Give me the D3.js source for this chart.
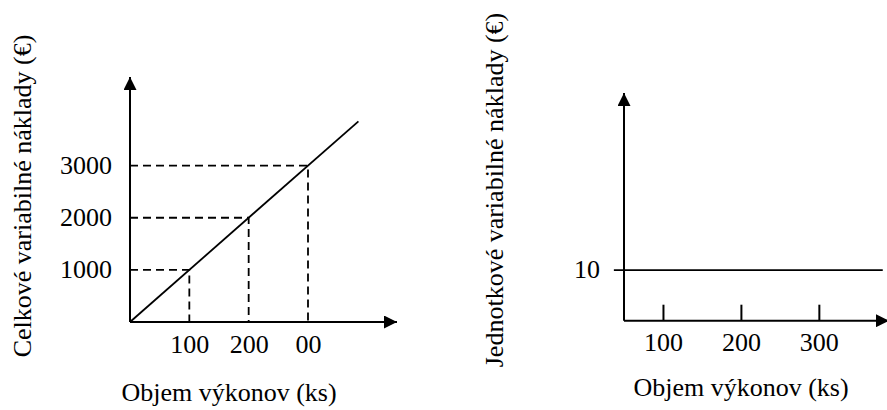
<!DOCTYPE html>
<html>
<head>
<meta charset="utf-8">
<script src="https://cdn.jsdelivr.net/npm/d3@7"></script>
<style>
  html, body { margin: 0; padding: 0; background: #fff; }
  svg { display: block; }
</style>
</head>
<body>
<div id="chart"></div>
<script>
// left chart: total variable costs
const leftXTicks = [100, 200, 300]
const leftXTickLabels = ["100", "200", "00"]
const leftYTicks = [1000, 2000, 3000]
const totalCostLine = [[0, 0], [385, 3850]]
const totalCostGuides = [[100, 1000], [200, 2000], [300, 3000]]
const leftXDomain = [0, 450]
const leftYDomain = [0, 4700]

// right chart: unit variable costs
const rightXTicks = [100, 200, 300]
const rightXTickLabels = ["100", "200", "300"]
const rightYTicks = [10]
const unitCostLine = [[37, 10], [382, 10]]
const rightXDomain = [50, 390]
const rightYDomain = [0, 45]

const xTitle = "Objem výkonov (ks)"
const leftYTitle = "Celkové variabilné náklady (€)"
const rightYTitle = "Jednotkové variabilné náklady (€)"

const width = 887
const height = 410
const fontSize = 26
const serif = "'Liberation Serif', 'Times New Roman', Times, 'DejaVu Serif', serif"

const svg = d3.select("#chart").append("svg")
    .attr("width", width)
    .attr("height", height)
    .attr("viewBox", [0, 0, width, height])
    .style("font-family", serif)

// arrow head
svg.append("defs").append("marker")
    .attr("id", "arrow")
    .attr("viewBox", "0 0 12 12")
    .attr("refX", 12)
    .attr("refY", 6)
    .attr("markerWidth", 13)
    .attr("markerHeight", 13)
    .attr("markerUnits", "userSpaceOnUse")
    .attr("orient", "auto")
    .append("path")
    .attr("d", "M0,0L12,6L0,12Z")
    .attr("fill", "#000")

function drawAxes(g, x, y) {
    const [x0, x1] = x.domain()
    const [y0, y1] = y.domain()
    g.append("line")
        .attr("x1", x(x0)).attr("y1", y(y0))
        .attr("x2", x(x1)).attr("y2", y(y0))
        .attr("stroke", "#000").attr("stroke-width", 2)
        .attr("marker-end", "url(#arrow)")
    g.append("line")
        .attr("x1", x(x0)).attr("y1", y(y0))
        .attr("x2", x(x0)).attr("y2", y(y1))
        .attr("stroke", "#000").attr("stroke-width", 2)
        .attr("marker-end", "url(#arrow)")
}

const styleTicks = (a, dy) => {
    a.select(".domain").remove()
    a.attr("font-family", null).attr("font-size", null)
    a.selectAll("text")
        .style("font-family", serif)
        .style("font-size", fontSize + "px")
        .attr("fill", "#000")
    if (dy) a.selectAll("text").attr("dy", dy)
}

// ---- left chart ----
{
    const x = d3.scaleLinear().domain(leftXDomain).range([130, 397])
    const y = d3.scaleLinear().domain(leftYDomain).range([322, 77])
    const g = svg.append("g")

    // dashed guides
    g.append("g")
        .attr("stroke", "#000")
        .attr("stroke-width", 1.8)
        .attr("stroke-dasharray", "8,5")
        .attr("fill", "none")
        .selectAll("path")
        .data(totalCostGuides)
        .join("path")
        .attr("d", d => `M${x(0)},${y(d[1])}H${x(d[0])}V${y(0)}`)

    g.append("path")
        .datum(totalCostLine)
        .attr("fill", "none")
        .attr("stroke", "#000")
        .attr("stroke-width", 1.8)
        .attr("d", d3.line().x(d => x(d[0])).y(d => y(d[1])))

    drawAxes(g, x, y)

    g.append("g")
        .attr("transform", `translate(0,${y(0)})`)
        .call(d3.axisBottom(x).tickValues(leftXTicks).tickSize(0).tickPadding(13)
            .tickFormat((d, i) => leftXTickLabels[i]))
        .call(a => styleTicks(a))

    g.append("g")
        .attr("transform", `translate(${x(0)},0)`)
        .call(d3.axisLeft(y).tickValues(leftYTicks).tickSize(0).tickPadding(18)
            .tickFormat(d3.format("d")))
        .call(a => styleTicks(a, "0.3em"))

    g.append("text")
        .attr("x", 229)
        .attr("y", 401)
        .attr("text-anchor", "middle")
        .style("font-size", fontSize + "px")
        .text(xTitle)

    g.append("text")
        .attr("transform", "translate(31,196) rotate(-90)")
        .attr("text-anchor", "middle")
        .style("font-size", fontSize + "px")
        .text(leftYTitle)
}

// ---- right chart ----
{
    const x = d3.scaleLinear().domain(rightXDomain).range([624, 889])
    const y = d3.scaleLinear().domain(rightYDomain).range([320.7, 93])
    const g = svg.append("g")

    g.append("path")
        .datum(unitCostLine)
        .attr("fill", "none")
        .attr("stroke", "#000")
        .attr("stroke-width", 1.8)
        .attr("d", d3.line().x(d => x(d[0])).y(d => y(d[1])))

    drawAxes(g, x, y)

    g.append("g")
        .attr("transform", `translate(0,${y(0)})`)
        .call(d3.axisBottom(x).tickValues(rightXTicks).tickSizeInner(-16).tickSizeOuter(0).tickPadding(12)
            .tickFormat((d, i) => rightXTickLabels[i]))
        .call(a => a.selectAll("line").attr("stroke-width", 2))
        .call(a => styleTicks(a))

    g.append("g")
        .attr("transform", `translate(${x(rightXDomain[0])},0)`)
        .call(d3.axisLeft(y).tickValues(rightYTicks).tickSize(0).tickPadding(24))
        .call(a => styleTicks(a, "0.3em"))

    g.append("text")
        .attr("x", 741)
        .attr("y", 396)
        .attr("text-anchor", "middle")
        .style("font-size", fontSize + "px")
        .text(xTitle)

    g.append("text")
        .attr("transform", "translate(503,190) rotate(-90)")
        .attr("text-anchor", "middle")
        .style("font-size", fontSize + "px")
        .text(rightYTitle)
}
</script>
</body>
</html>
